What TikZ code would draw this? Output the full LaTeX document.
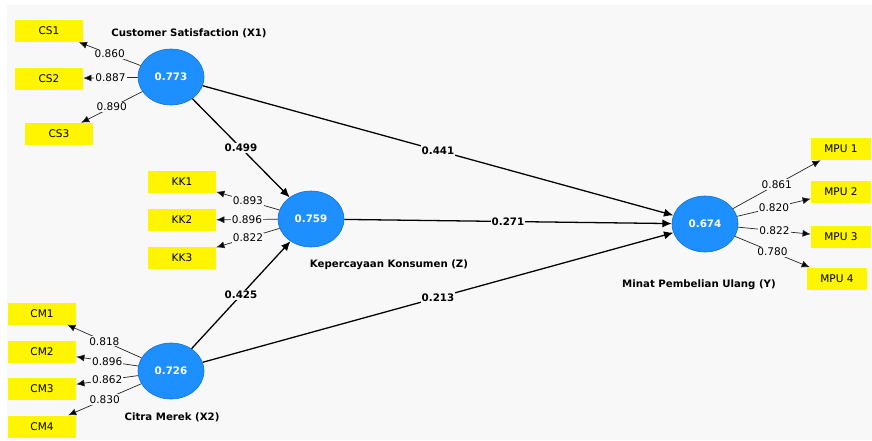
\documentclass[tikz,border=0pt]{standalone}
\usepackage{fontspec}
\setmainfont{DejaVu Sans}
\usepackage{tikz}
\usetikzlibrary{shapes.geometric, positioning, arrows.meta}

\definecolor{bgray}{HTML}{F8F8F8}
\definecolor{lvblue}{HTML}{1E8FFF}
\definecolor{lvedge}{HTML}{1170D0}
\definecolor{mvyellow}{HTML}{FFF500}

\tikzset{
    latent/.style={ellipse, fill=lvblue, draw=lvedge, line width=0.5pt,
        minimum width=1.98cm, minimum height=1.68cm, inner sep=0pt,
        text=white, font=\fontsize{8.8}{10}\selectfont\bfseries},
    indicator/.style={rectangle, fill=mvyellow, minimum width=2.04cm,
        minimum height=0.66cm, inner sep=0pt, font=\fontsize{9}{10}\selectfont},
    loading/.style={-{Latex[length=7pt,width=6pt]}, line width=0.6pt, draw=black!85},
    path coef/.style={-{Latex[length=8pt,width=7pt]}, line width=1.1pt},
    lw/.style={fill=bgray, inner sep=1pt, font=\fontsize{9}{10}\selectfont},
    pc/.style={fill=bgray, inner sep=1pt, font=\fontsize{8.8}{10}\selectfont\bfseries},
    lvname/.style={font=\fontsize{8.7}{10}\selectfont\bfseries}
}

\begin{document}
\begin{tikzpicture}[x=0.03cm, y=-0.03cm]
    \useasboundingbox (0,0) rectangle (872,440);
    \fill[white] (0,0) rectangle (872,440);
    \fill[bgray] (7,5) rectangle (872,440);

    % latent variables
    \node[latent] (x1) at (171,77) {0.773};
    \node[latent] (z) at (311,219) {0.759};
    \node[latent] (x2) at (171,371) {0.726};
    \node[latent] (y) at (705,224) {0.674};

    \node[lvname] (x1name) at (189,33) {Customer Satisfaction (X1)};
    \node[lvname] (zname) at (389,265) {Kepercayaan Konsumen (Z)};
    \node[lvname] (x2name) at (172,417) {Citra Merek (X2)};
    \node[lvname] (yname) at (699,285) {Minat Pembelian Ulang (Y)};

    % indicators
    \node[indicator] (cs1) at (49,31) {CS1};
    \node[indicator] (cs2) at (49,78.5) {CS2};
    \node[indicator] (cs3) at (59,134) {CS3};

    \node[indicator] (kk1) at (182,182) {KK1};
    \node[indicator] (kk2) at (182,220) {KK2};
    \node[indicator] (kk3) at (182,257.5) {KK3};

    \node[indicator] (cm1) at (42,313.5) {CM1};
    \node[indicator] (cm2) at (42,351.5) {CM2};
    \node[indicator] (cm3) at (42,389) {CM3};
    \node[indicator] (cm4) at (42,426.5) {CM4};

    \node[indicator, minimum width=1.8cm] (mpu1) at (841,149) {MPU 1};
    \node[indicator, minimum width=1.8cm] (mpu2) at (841,191.5) {MPU 2};
    \node[indicator, minimum width=1.8cm] (mpu3) at (841,237) {MPU 3};
    \node[indicator, minimum width=1.8cm] (mpu4) at (837,278.5) {MPU 4};

    % outer loadings
    \path[loading]
    (x1) edge node[lw] {0.860} (cs1)
    (x1) edge node[lw] {0.887} (cs2)
    (x1) edge node[lw] {0.890} (cs3)
    (z) edge node[lw] {0.893} (kk1)
    (z) edge node[lw] {0.896} (kk2)
    (z) edge node[lw] {0.822} (kk3)
    (x2) edge node[lw] {0.818} (cm1)
    (x2) edge node[lw] {0.896} (cm2)
    (x2) edge node[lw] {0.862} (cm3)
    (x2) edge node[lw] {0.830} (cm4)
    (y) edge node[lw] {0.861} (mpu1)
    (y) edge node[lw] {0.820} (mpu2)
    (y) edge node[lw] {0.822} (mpu3)
    (y) edge node[lw] {0.780} (mpu4);

    % path coefficients
    \path[path coef]
    (x1) edge node[pc] {0.499} (z)
    (x1) edge node[pc] {0.441} (y)
    (z) edge node[pc] {0.271} (y)
    (x2) edge node[pc] {0.425} (z)
    (x2) edge node[pc] {0.213} (y);
\end{tikzpicture}
\end{document}
